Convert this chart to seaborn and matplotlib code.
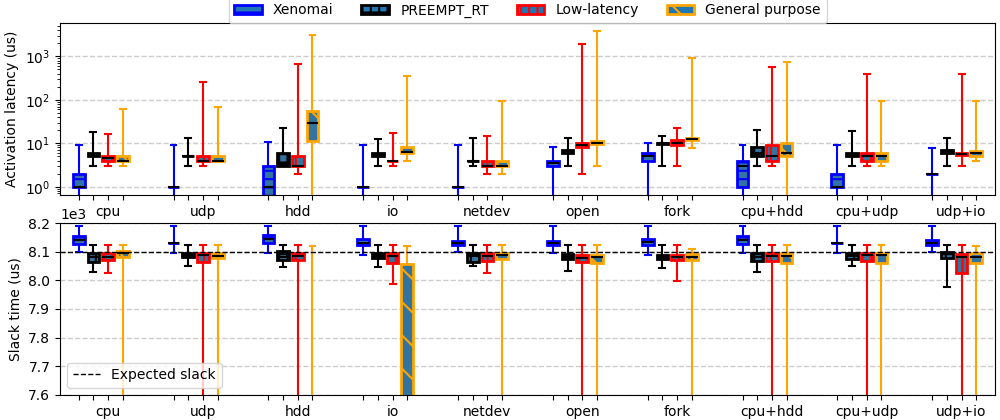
import numpy as np
import pandas as pd
import seaborn as sns
import matplotlib.pyplot as plt
from matplotlib.patches import Patch
from matplotlib.lines import Line2D
from matplotlib.ticker import MultipleLocator

categories = ['cpu', 'udp', 'hdd', 'io', 'netdev', 'open', 'fork', 'cpu+hdd', 'cpu+udp', 'udp+io']
kernels = ['Xenomai', 'PREEMPT_RT', 'Low-latency', 'General purpose']
edge_colors = ['blue', 'black', 'red', 'orange']
hatches = ['--', '++', '||', '\\']

# activation latency (us) per test: (min, q1, median, q3, max)
lat_xenomai = [(0.3, 1, 1, 2, 9), (0.3, 1, 1, 1, 9), (0.3, 0.5, 1, 3, 10.5), (0.3, 1, 1, 1, 9),
               (0.3, 1, 1, 1, 9), (0.3, 3, 3.6, 4, 8), (0.3, 4, 5, 6, 10), (0.3, 1, 3, 4, 9),
               (0.3, 1, 1, 2, 9), (0.3, 2, 2, 2, 7.8)]
lat_preempt = [(3, 5, 5.3, 6, 18), (3, 5, 5, 5, 13), (3, 3, 3.4, 6, 22.7), (3, 5, 5.5, 6, 12.3),
               (3, 4, 4, 4, 13.4), (3, 6, 6.5, 7, 13.4), (3, 9.5, 10, 10, 14.6), (3, 5, 6, 8, 20),
               (3, 5, 5.5, 6, 19), (3, 6, 6.5, 7, 13)]
lat_lowlat = [(3, 4, 4.5, 5, 16), (3, 4, 4, 5, 255), (2, 3, 3, 5, 650), (3, 4, 4, 4, 17),
              (2, 3, 3, 4, 14.6), (2, 8, 9, 10, 1900), (3, 9, 10.3, 12, 23), (3, 4, 5, 9, 565),
              (3, 4, 5, 6, 390), (3, 5.3, 5.6, 6, 390)]
lat_general = [(3, 4, 4, 5, 60), (4, 4, 4, 5, 67), (0.3, 11, 30, 55, 3070), (4, 6, 6.2, 8, 350),
               (2, 3, 3, 4, 95), (3, 9.5, 10, 11, 3800), (7.6, 12, 12.5, 13.5, 895), (0.3, 5, 6, 10, 736),
               (3, 4, 5, 6, 95), (4, 5, 6, 6.8, 95)]

# slack time (us) per test: (min, q1, median, q3, max)
slack_xenomai = [(8098, 8127, 8141, 8155, 8190), (8094, 8129, 8129, 8129, 8190), (8094, 8129, 8143, 8157, 8190),
                 (8088, 8124, 8129, 8143, 8190), (8099, 8124, 8129, 8137, 8190), (8094, 8122, 8129, 8137, 8190),
                 (8090, 8122, 8133, 8143, 8190), (8094, 8127, 8141, 8155, 8190), (8094, 8129, 8129, 8129, 8190),
                 (8100, 8124, 8131, 8141, 8190)]
slack_preempt = [(8028, 8065, 8083, 8094, 8124), (8050, 8083, 8088, 8094, 8124), (8045, 8071, 8083, 8101, 8124),
                 (8045, 8077, 8086, 8094, 8124), (8050, 8063, 8086, 8094, 8124), (8032, 8076, 8083, 8093, 8124),
                 (8042, 8073, 8083, 8089, 8124), (8028, 8069, 8081, 8096, 8124), (8050, 8076, 8086, 8094, 8124),
                 (7978, 8077, 8094, 8100, 8124)]
slack_lowlat = [(8025, 8072, 8083, 8094, 8124), (7000, 8063, 8090, 8094, 8124), (7000, 8071, 8086, 8096, 8124),
                (7987, 8062, 8086, 8094, 8124), (8027, 8067, 8086, 8094, 8124), (7000, 8065, 8077, 8088, 8124),
                (7998, 8071, 8081, 8089, 8124), (7000, 8069, 8086, 8094, 8124), (7000, 8069, 8088, 8094, 8124),
                (7000, 8027, 8081, 8091, 8124)]
slack_general = [(7000, 8083, 8094, 8103, 8124), (7000, 8077, 8086, 8094, 8124), (5000, 6500, 7000, 7300, 8121),
                 (5000, 6800, 7300, 8057, 8121), (7000, 8076, 8090, 8094, 8124), (7000, 8060, 8080, 8090, 8124),
                 (7000, 8071, 8083, 8092, 8109), (7000, 8060, 8086, 8094, 8124), (7000, 8062, 8088, 8094, 8124),
                 (7000, 8060, 8081, 8094, 8120)]

expected_slack = 8100

plt.rcParams['hatch.linewidth'] = 1.5


def to_long(stats_by_kernel):
    rows = []
    for kernel, stats in zip(kernels, stats_by_kernel):
        for cat, five in zip(categories, stats):
            for v in five:
                rows.append({'test': cat, 'kernel': kernel, 'value': v})
    return pd.DataFrame(rows)


df_lat = to_long([lat_xenomai, lat_preempt, lat_lowlat, lat_general])
df_slack = to_long([slack_xenomai, slack_preempt, slack_lowlat, slack_general])

width = 0.62
pos = np.arange(len(categories))
offsets = (np.arange(len(kernels)) - 1.5) * width / len(kernels)


def draw_boxes(ax, df):
    sns.boxplot(data=df, x='test', y='value', hue='kernel', order=categories, hue_order=kernels,
                palette={k: '#1f77b4' for k in kernels}, whis=(0, 100), width=width, gap=0.2,
                linewidth=1.5, legend=False, ax=ax)
    for cont, col, h in zip(ax.containers, edge_colors, hatches):
        for box in cont.boxes:
            box.set_edgecolor(col)
            box.set_hatch(h)
            box.set_linewidth(2)
        for ln in list(cont.whiskers) + list(cont.caps):
            ln.set_color(col)
            ln.set_linewidth(1.5)
        for ln in cont.medians:
            ln.set_color('black')
            ln.set_linewidth(1.5)
    # one tick per box, test name under the third box
    ax.set_xticks(pos + offsets[2], labels=categories)
    ax.set_xticks((pos[:, None] + offsets).ravel(), minor=True)
    ax.tick_params(axis='x', which='minor', length=3.5, width=0.8)
    ax.set_xlim(-0.43, len(categories) - 1 + 0.43)
    ax.set_xlabel('')
    ax.set_axisbelow(True)
    ax.grid(axis='y', which='major', linestyle='--', color='#cccccc', linewidth=1)


fig, (ax1, ax2) = plt.subplots(2, 1, figsize=(10, 4.2), dpi=100)
fig.subplots_adjust(left=0.06, right=0.995, top=0.945, bottom=0.06, hspace=0.164)

draw_boxes(ax1, df_lat)
ax1.set_yscale('log')
ax1.set_ylim(0.65, 5800)
ax1.set_ylabel('Activation latency (us)')

draw_boxes(ax2, df_slack)
ax2.axhline(expected_slack, color='black', linestyle='--', linewidth=1)
ax2.set_ylim(7600, 8200)
ax2.yaxis.set_major_locator(MultipleLocator(100))
ax2.ticklabel_format(axis='y', style='sci', scilimits=(3, 3))
ax2.set_ylabel('Slack time (us)')
ax2.legend(handles=[Line2D([0], [0], color='black', linestyle='--', linewidth=1, label='Expected slack')],
           loc='lower left')

handles = [Patch(facecolor='#1f77b4', edgecolor=c, hatch=h, linewidth=2, label=k)
           for k, c, h in zip(kernels, edge_colors, hatches)]
ax1.legend(handles=handles, ncol=4, loc='lower center', bbox_to_anchor=(0.5, 1.0), borderaxespad=0)

fig.savefig('out.png', dpi=100)
